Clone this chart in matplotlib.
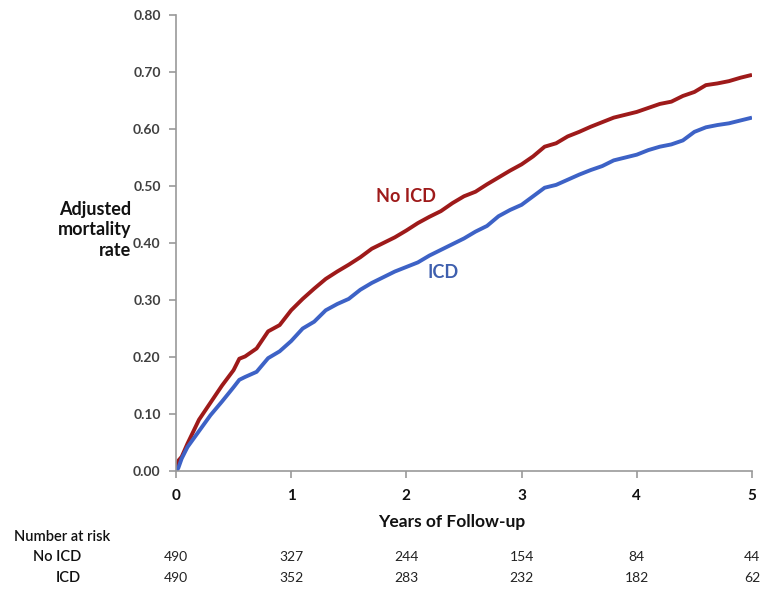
import matplotlib
matplotlib.use("Agg")
import matplotlib.pyplot as plt

plt.rcParams['font.family'] = ['Lato', 'DejaVu Sans']

years = [0.0, 0.02, 0.05, 0.1, 0.2, 0.3, 0.4, 0.5, 0.55, 0.6, 0.7, 0.8, 0.9,
         1.0, 1.1, 1.2, 1.3, 1.4, 1.5, 1.6, 1.7, 1.8, 1.9,
         2.0, 2.1, 2.2, 2.3, 2.4, 2.5, 2.6, 2.7, 2.8, 2.9,
         3.0, 3.1, 3.2, 3.3, 3.4, 3.5, 3.6, 3.7, 3.8, 3.9,
         4.0, 4.1, 4.2, 4.3, 4.4, 4.5, 4.6, 4.7, 4.8, 4.9, 5.0]

no_icd = [0.000, 0.018, 0.025, 0.048, 0.090, 0.120, 0.150, 0.177, 0.197, 0.201, 0.215, 0.245, 0.256,
          0.282, 0.302, 0.320, 0.337, 0.350, 0.362, 0.375, 0.390, 0.400, 0.410,
          0.422, 0.435, 0.446, 0.456, 0.470, 0.482, 0.490, 0.503, 0.515, 0.527,
          0.538, 0.552, 0.569, 0.575, 0.587, 0.595, 0.604, 0.612, 0.620, 0.625,
          0.630, 0.637, 0.644, 0.648, 0.658, 0.665, 0.677, 0.680, 0.684, 0.690, 0.695]

icd = [0.000, 0.005, 0.022, 0.042, 0.070, 0.098, 0.122, 0.147, 0.160, 0.165, 0.174, 0.198, 0.210,
       0.228, 0.250, 0.262, 0.282, 0.293, 0.302, 0.318, 0.330, 0.340, 0.350,
       0.358, 0.366, 0.378, 0.388, 0.398, 0.408, 0.420, 0.430, 0.447, 0.458,
       0.467, 0.482, 0.497, 0.502, 0.511, 0.520, 0.528, 0.535, 0.545, 0.550,
       0.555, 0.563, 0.569, 0.573, 0.580, 0.595, 0.603, 0.607, 0.610, 0.615, 0.620]

risk_years = [0, 1, 2, 3, 4, 5]
risk_no_icd = [490, 327, 244, 154, 84, 44]
risk_icd = [490, 352, 283, 232, 182, 62]

y_ticks = [0.0, 0.1, 0.2, 0.3, 0.4, 0.5, 0.6, 0.7, 0.8]

RED = '#9E1A1A'
BLUE = '#3D62C6'

fig = plt.figure(figsize=(7.65, 5.89), dpi=100)
ax = fig.add_axes([0.230, 0.2003, 0.753, 0.7742])

ax.plot(years, no_icd, color=RED, lw=2.8, solid_joinstyle='round', solid_capstyle='butt')
ax.plot(years, icd, color=BLUE, lw=2.8, solid_joinstyle='round', solid_capstyle='butt')

ax.set_xlim(0, 5)
ax.set_ylim(0, 0.8)
ax.set_yticks(y_ticks)
ax.set_yticklabels([f"{v:.2f}" for v in y_ticks], fontsize=10, color='#404040', fontweight='bold')
ax.set_xticks(risk_years)
ax.set_xticklabels([str(v) for v in risk_years], fontsize=11, fontweight='bold', color='#111111')

for s in ['top', 'right']:
    ax.spines[s].set_visible(False)
for s in ['left', 'bottom']:
    ax.spines[s].set_color('#999999')
    ax.spines[s].set_linewidth(1.2)
ax.tick_params(axis='both', direction='out', color='#999999', length=5, width=1.2)
ax.tick_params(axis='x', pad=8)
ax.tick_params(axis='y', pad=6)

fig.text(131/765, 1 - 230/589, "Adjusted\nmortality\nrate", ha='right', va='center',
         fontsize=13, fontweight='bold', linespacing=1.25, color='#111111')

ax.text(406/765, 1 - 196/589, "No ICD", transform=fig.transFigure, ha='center', va='center',
        fontsize=13, fontweight='bold', color=RED)
ax.text(443/765, 1 - 273/589, "ICD", transform=fig.transFigure, ha='center', va='center',
        fontsize=13, fontweight='bold', color='#3E5FAE')

fig.text(452/765, 1 - 522/589, "Years of Follow-up", ha='center', va='center',
         fontsize=12.5, fontweight='bold', color='#111111')

fig.text(14/765, 1 - 537/589, "Number at risk", ha='left', va='center',
         fontsize=10.5, fontweight='semibold', color='#111111')
fig.text(81/765, 1 - 557/589, "No ICD", ha='right', va='center',
         fontsize=10.5, fontweight='semibold', color='#111111')
fig.text(81/765, 1 - 578/589, "ICD", ha='right', va='center',
         fontsize=10.5, fontweight='semibold', color='#111111')

for yr, n1, n2 in zip(risk_years, risk_no_icd, risk_icd):
    xf = ax.transData.transform((yr, 0))[0]
    xfig = fig.transFigure.inverted().transform((xf, 0))[0]
    fig.text(xfig, 1 - 557/589, str(n1), ha='center', va='center', fontsize=10, color='#222222')
    fig.text(xfig, 1 - 578/589, str(n2), ha='center', va='center', fontsize=10, color='#222222')

fig.savefig('out.png', dpi=100)
